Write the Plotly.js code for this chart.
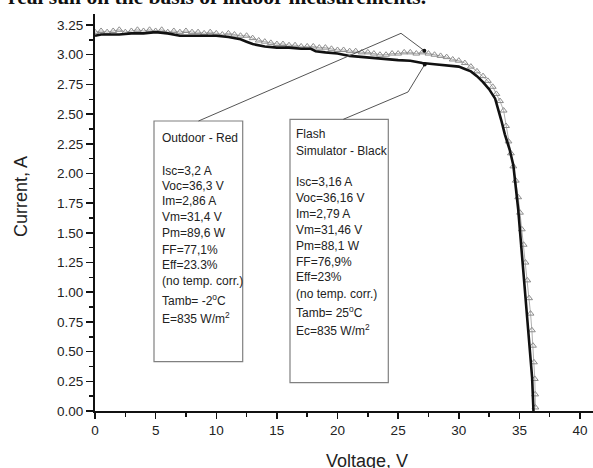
<!DOCTYPE html>
<html>
<head>
<meta charset="utf-8">
<script src="https://cdn.plot.ly/plotly-3.0.1.min.js"></script>
<style>html,body{margin:0;padding:0;background:#fff;}#chart{width:593px;height:468px;}</style>
</head>
<body>
<div id="chart"></div>
<script>
// ---- Data ----
// Flash simulator (black line)
const flashV = [0, 0.5, 1, 2, 3, 4, 5, 6, 7, 8, 9, 10, 11, 11.5, 12, 12.5, 13, 14, 15, 16, 17, 17.8, 18.2, 19, 20, 21, 22, 23, 24, 25, 26, 27, 28, 29, 30, 30.5, 31, 31.5, 32, 32.5, 33, 33.5, 33.8, 34.2, 34.5, 34.9, 35.3, 35.6, 35.85, 36.05, 36.16];
const flashI = [3.16, 3.17, 3.17, 3.17, 3.18, 3.18, 3.19, 3.18, 3.16, 3.16, 3.16, 3.16, 3.15, 3.14, 3.13, 3.11, 3.09, 3.07, 3.06, 3.06, 3.05, 3.05, 3.03, 3.02, 3.01, 2.99, 2.98, 2.97, 2.96, 2.955, 2.95, 2.93, 2.92, 2.91, 2.90, 2.88, 2.86, 2.82, 2.77, 2.71, 2.63, 2.45, 2.33, 2.20, 2.07, 1.70, 1.20, 0.88, 0.58, 0.28, 0.0];
// Outdoor (grey open triangles)
const outdoorV = [0.0, 0.5, 1.0, 1.5, 2.0, 2.5, 3.0, 3.5, 4.0, 4.5, 5.0, 5.5, 6.0, 6.5, 7.0, 7.5, 8.0, 8.5, 9.0, 9.5, 10.0, 10.5, 11.0, 11.5, 12.0, 12.5, 13.0, 13.5, 14.0, 14.5, 15.0, 15.5, 16.0, 16.5, 17.0, 17.5, 18.0, 18.5, 19.0, 19.5, 20.0, 20.5, 21.0, 21.5, 22.0, 22.5, 23.0, 23.5, 24.0, 24.5, 25.0, 25.5, 26.0, 26.5, 27.0, 27.5, 28.0, 28.5, 29.0, 29.5, 30.0, 30.5, 31.0, 31.5, 32.0, 32.4, 32.8, 33.1, 33.4, 33.7, 33.9, 34.1, 34.3, 34.5, 34.7, 34.9, 35.05, 35.2, 35.35, 35.5, 35.65, 35.8, 35.92, 36.03, 36.12, 36.2, 36.27, 36.3, 36.32];
const outdoorI = [3.19, 3.20, 3.19, 3.20, 3.21, 3.19, 3.20, 3.21, 3.20, 3.21, 3.20, 3.21, 3.19, 3.20, 3.19, 3.20, 3.19, 3.19, 3.18, 3.19, 3.18, 3.17, 3.18, 3.17, 3.16, 3.16, 3.14, 3.12, 3.11, 3.10, 3.09, 3.09, 3.08, 3.08, 3.07, 3.07, 3.07, 3.06, 3.06, 3.05, 3.04, 3.04, 3.03, 3.03, 3.02, 3.02, 3.01, 3.00, 3.00, 3.01, 3.01, 3.02, 3.02, 3.01, 3.02, 3.01, 3.00, 2.99, 2.98, 2.96, 2.95, 2.93, 2.90, 2.86, 2.82, 2.78, 2.73, 2.67, 2.61, 2.53, 2.40, 2.27, 2.17, 2.06, 1.94, 1.80, 1.67, 1.53, 1.40, 1.25, 1.10, 0.95, 0.82, 0.68, 0.55, 0.41, 0.27, 0.14, 0.03];

// Tick labels
const xTicks = [0, 5, 10, 15, 20, 25, 30, 35, 40];
const yTicks = [0, 0.25, 0.5, 0.75, 1, 1.25, 1.5, 1.75, 2, 2.25, 2.5, 2.75, 3, 3.25];
const yTickText = yTicks.map(v => v.toFixed(2));

// Text boxes
const outdoorLines = ["Outdoor - Red", "Isc=3,2 A", "Voc=36,3 V", "Im=2,86 A", "Vm=31,4 V", "Pm=89,6 W", "FF=77,1%", "Eff=23.3%", "(no temp. corr.)", "Tamb= -2<sup>o</sup>C", "E=835 W/m<sup>2</sup>"];
const flashLines = ["Flash", "Simulator - Black", "Isc=3,16 A", "Voc=36,16 V", "Im=2,79 A", "Vm=31,46 V", "Pm=88,1 W", "FF=76,9%", "Eff=23%", "(no temp. corr.)", "Tamb= 25<sup>o</sup>C", "Ec=835 W/m<sup>2</sup>"];

// ---- Layout helpers (pixel -> paper) ----
const L = 95, T = 14, W = 498, H = 397;
const px = x => (x - L) / W;
const py = y => (T + H - y) / H;

const outdoorY = [138.3, 171, 186, 201, 217, 233, 249.5, 265, 280.5, 300, 317.5];
const flashY = [134.3, 150.7, 182.3, 198.3, 214, 230.3, 246, 261.7, 277.3, 293.5, 311.7, 330];

const FONT = "Liberation Sans, Arial, sans-serif";
const annotations = [];
outdoorLines.forEach((t, i) => annotations.push({
  xref: 'paper', yref: 'paper', x: px(160), y: py(outdoorY[i]), xanchor: 'left', yanchor: 'middle',
  text: t, showarrow: false, font: {family: FONT, size: 12, color: '#222'}
}));
flashLines.forEach((t, i) => annotations.push({
  xref: 'paper', yref: 'paper', x: px(294), y: py(flashY[i]), xanchor: 'left', yanchor: 'middle',
  text: t, showarrow: false, font: {family: FONT, size: 12, color: '#222'}
}));
// axis titles
annotations.push({xref: 'paper', yref: 'paper', x: px(21), y: py(197), xanchor: 'center', yanchor: 'middle',
  textangle: -90, text: 'Current, A', showarrow: false, font: {family: FONT, size: 18, color: '#222'}});
annotations.push({xref: 'paper', yref: 'paper', x: px(367), y: py(449), xanchor: 'center', yanchor: 'top',
  text: 'Voltage, V', showarrow: false, font: {family: FONT, size: 18, color: '#222'}});
// cut-off caption at the very top
annotations.push({xref: 'paper', yref: 'paper', x: px(6), y: py(11), xanchor: 'left', yanchor: 'bottom',
  text: '<b>real sun on the basis of indoor measurements.</b>', showarrow: false,
  font: {family: 'Liberation Serif, Times New Roman, serif', size: 21.5, color: '#111'}});

const path = pts => pts.map((p, i) => (i ? 'L' : 'M') + px(p[0]) + ',' + py(p[1])).join(' ');
const shapes = [
  {type: 'rect', xref: 'paper', yref: 'paper', x0: px(154), x1: px(242.7), y0: py(121), y1: py(361.7), line: {color: '#808080', width: 1.2}},
  {type: 'rect', xref: 'paper', yref: 'paper', x0: px(290), x1: px(388.3), y0: py(119.3), y1: py(382.7), line: {color: '#808080', width: 1.2}},
  {type: 'path', xref: 'paper', yref: 'paper', path: path([[198.5, 121], [401, 33.3], [424.3, 50.7]]), line: {color: '#555', width: 1}},
  {type: 'path', xref: 'paper', yref: 'paper', path: path([[343.3, 119.3], [408, 92], [424.7, 64.5]]), line: {color: '#555', width: 1}},
  {type: 'circle', xref: 'paper', yref: 'paper', xsizemode: 'pixel', ysizemode: 'pixel', xanchor: px(424.3), yanchor: py(50.7), x0: -2, x1: 2, y0: -2, y1: 2, fillcolor: '#111', line: {width: 0}},
  {type: 'circle', xref: 'paper', yref: 'paper', xsizemode: 'pixel', ysizemode: 'pixel', xanchor: px(424.7), yanchor: py(64.5), x0: -2, x1: 2, y0: -2, y1: 2, fillcolor: '#111', line: {width: 0}}
];

const traces = [
  {x: outdoorV, y: outdoorI, type: 'scatter', mode: 'lines+markers', name: 'Outdoor',
   line: {color: '#b0b0b0', width: 1},
   marker: {symbol: 'triangle-up-open', size: 6, color: '#8c8c8c', line: {width: 1}}},
  {x: flashV, y: flashI, type: 'scatter', mode: 'lines', name: 'Flash simulator',
   line: {color: '#111', width: 2.6}}
];

const axisCommon = {
  showgrid: false, zeroline: false, showline: true, linecolor: '#111', linewidth: 2,
  ticks: 'outside', tickcolor: '#111', tickwidth: 1.5,
  tickfont: {family: FONT, size: 13.5, color: '#222'}
};

const layout = {
  width: 593, height: 468,
  margin: {l: L, r: 0, t: T, b: 57, pad: 0},
  paper_bgcolor: '#fff', plot_bgcolor: '#fff',
  showlegend: false,
  xaxis: Object.assign({}, axisCommon, {
    range: [0, 41.07], tickmode: 'array', tickvals: xTicks, ticktext: xTicks.map(String), ticklen: 6,
    minor: {dtick: 2.5, tick0: 0, ticks: 'outside', ticklen: 4, tickwidth: 1.5, tickcolor: '#111', showgrid: false}
  }),
  yaxis: Object.assign({}, axisCommon, {
    range: [0, 3.343], tickmode: 'array', tickvals: yTicks, ticktext: yTickText, ticklen: 7,
    minor: {dtick: 0.125, tick0: 0, ticks: 'outside', ticklen: 4, tickwidth: 1.5, tickcolor: '#111', showgrid: false}
  }),
  annotations: annotations,
  shapes: shapes
};

Plotly.newPlot('chart', traces, layout, {staticPlot: true, displayModeBar: false});
</script>
</body>
</html>
